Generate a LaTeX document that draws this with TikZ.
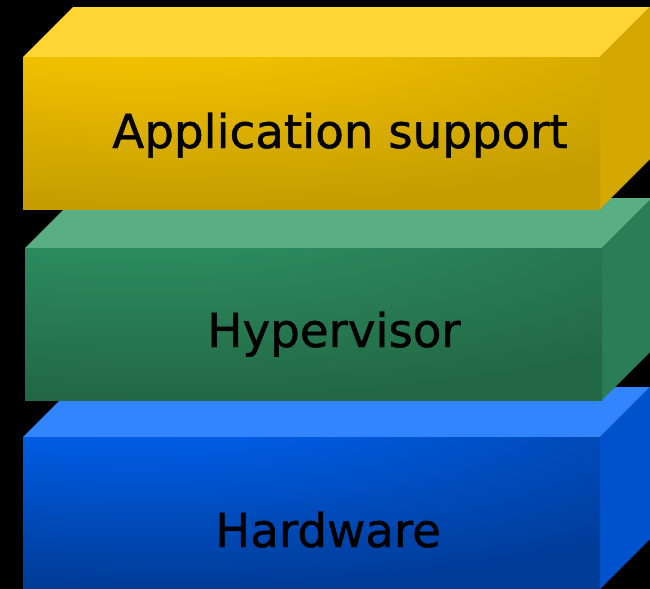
\documentclass[tikz,border=0pt]{standalone}
\usepackage{fontspec}
\setmainfont{DejaVu Sans}
\newfontfamily\layerfont[FakeBold=1]{DejaVu Sans}
\usetikzlibrary{positioning}
\newcommand{\boxwidth}{577}
\newcommand{\boxheight}{152}
\newcommand{\boxdepth}{50}
\definecolor{apptop}{RGB}{255,214,51}
\definecolor{appside}{RGB}{212,168,0}
\definecolor{applite}{RGB}{248,198,0}
\definecolor{appdark}{RGB}{197,157,0}
\definecolor{hvtop}{RGB}{90,174,132}
\definecolor{hvside}{RGB}{43,125,85}
\definecolor{hvlite}{RGB}{46,145,98}
\definecolor{hvdark}{RGB}{34,104,69}
\definecolor{hwtop}{RGB}{51,133,255}
\definecolor{hwside}{RGB}{0,82,204}
\definecolor{hwlite}{RGB}{0,98,240}
\definecolor{hwdark}{RGB}{0,60,152}
\newcommand{\frontshading}[1]{\pgfdeclareradialshading{#1front}{\pgfpoint{-18bp}{48bp}}{color(0bp)=(#1lite); color(12bp)=(#1lite); color(55bp)=(#1dark); color(150bp)=(#1dark)}}
\frontshading{app}
\frontshading{hv}
\frontshading{hw}

\begin{document}
\begin{tikzpicture}[x=0.02cm, y=-0.02cm,
    layertext/.style={font=\layerfont\fontsize{26.6}{30}\selectfont, text=black, inner sep=0pt}]
    \fill[black] (0,0) rectangle (650,589);
    \useasboundingbox (0,0) rectangle (650,589);
    % bottom layer first, so the upper boxes cover it
    \foreach \lay/\lx/\ly/\tx/\tb/\txt in {hw/23/437/328/547/Hardware, hv/25/248/334/347/Hypervisor, app/23/57/340/148/Application support} {
        \fill[\lay top] (\lx,\ly) -- ++(\boxdepth,-\boxdepth) -- ++(\boxwidth,0) -- ++(-\boxdepth,\boxdepth) -- cycle;
        \fill[\lay side] (\lx+\boxwidth,\ly) -- ++(\boxdepth,-\boxdepth) -- ++(0,\boxheight) -- ++(-\boxdepth,\boxdepth) -- cycle;
        \shade[shading=\lay front] (\lx,\ly) rectangle ++(\boxwidth,\boxheight);
        \node[layertext, anchor=base] (\lay-label) at (\tx,\tb) {\txt};
    }
\end{tikzpicture}
\end{document}
